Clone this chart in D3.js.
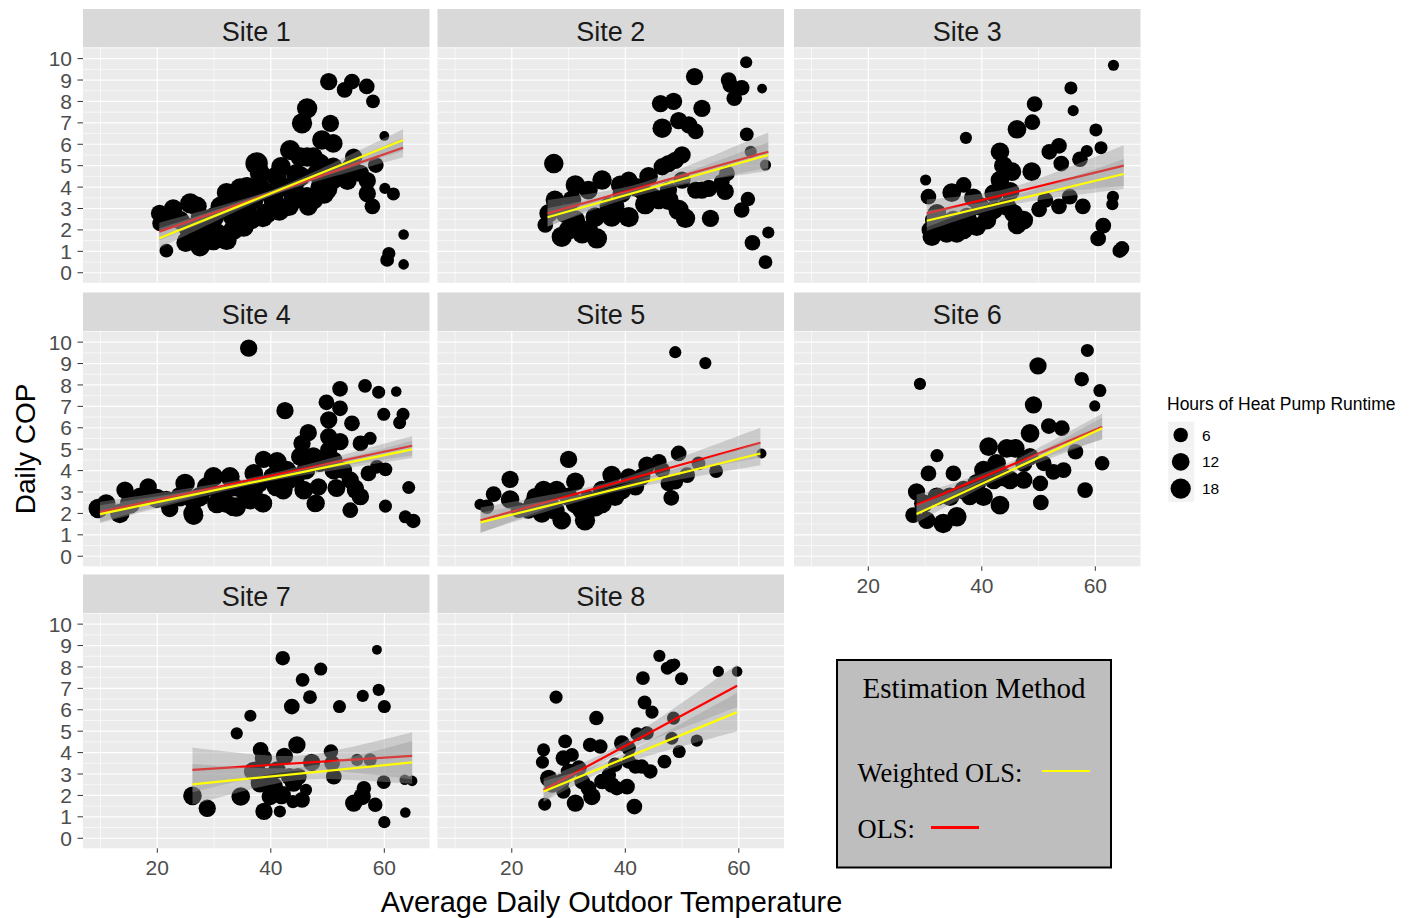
<!DOCTYPE html>
<html>
<head>
<meta charset="utf-8">
<script src="https://cdn.jsdelivr.net/npm/d3@7"></script>
<style>
  body { margin: 0; background: #fff; }
  svg { display: block; }
  .tick-label { font-family: "Liberation Sans", Arial, sans-serif; font-size: 21px; fill: #4d4d4d; }
  .strip-label { font-family: "Liberation Sans", Arial, sans-serif; font-size: 27px; fill: #1a1a1a; }
  .axis-title { font-family: "Liberation Sans", Arial, sans-serif; font-size: 28px; fill: #000; }
  .axis-title.x-title { font-size: 28.9px; }
  .legend-text { font-family: "Liberation Sans", Arial, sans-serif; fill: #000; }
  .box-text { font-family: "Liberation Serif", "Times New Roman", serif; fill: #000; }
</style>
</head>
<body>
<svg id="chart" width="1412" height="918"></svg>
<script>
// ---- data ----
const siteNames = ['Site 1', 'Site 2', 'Site 3', 'Site 4', 'Site 5', 'Site 6', 'Site 7', 'Site 8'];

// [avg outdoor temp, daily COP, hours of runtime]
const site1 = [
  [20.4,2.77,11],[21.6,1.03,5],[20.5,2.3,8],[22.8,3.0,14],[25.8,3.24,18],[27,3.1,16],[25.2,1.5,14],[27.6,1.25,16],
  [32.2,3.74,16],[34.6,3.94,18],[33.4,2.0,18],[37.5,5.1,24],[38.1,4.64,18],[41,4.5,18],[43.4,5.73,18],[45.5,6.98,18],
  [46.4,7.68,18],[46.4,5.4,16],[47.5,3.4,16],[46.6,3.1,14],[49,6.2,16],[49.4,3.7,18],[50.2,8.93,11],[50.5,6.98,11],
  [51,6.04,14],[53,8.54,8],[54.3,8.93,8],[56.9,8.7,8],[58,8.0,5],[54.6,5.4,11],[57,4.3,11],[57,3.7,11],[57.9,3.1,8],
  [58.5,5.03,8],[60,6.39,1],[60.1,3.94,2],[61.6,3.68,4],[60.8,0.9,4],[60.5,0.6,5],[63.4,1.79,1.5],[63.4,0.39,1.5],
  [28.7,2.15,18],[30.5,1.84,18],[33.4,2.6,18],[35.8,3.1,18],[37,3.4,16],[39.3,2.77,18],[40.5,3.4,18],[42.2,4.0,16],
  [44,4.0,18],[45.2,4.5,18],[48.1,4.64,16],[48.7,4.0,16],[51,4.33,14],[52.2,4.64,14],[54,4.95,11],[54.6,4.8,11],
  [55.8,4.64,11],[53.5,4.3,14],[44,3.4,18],[46.4,3.55,16],[43.2,3.1,16],[38.6,2.6,18],[35.2,2.15,18],[32.2,1.53,18],
  [29.9,1.5,16],[27.6,1.84,16],[25.2,2.15,14],[24,2.46,14],[22.8,2.6,11],[21.6,2.46,11],[27.6,2.6,16],[31.1,3.1,16],
  [33.4,3.4,16],[35.8,4.0,18],[38.1,4.0,18],[40,3.7,18],[41.8,4.95,16],[45.2,5.4,16],[47.5,5.4,16],[48.7,5.1,16],[51,4.95,14],
  [25,1.4,14],[27.5,1.2,14],[30,2.6,18],[36.5,2.5,18],[41.5,2.9,18],[44.5,4.6,18],[50,3.9,16]
];
const site2 = [
  [27.4,5.1,16],[25.9,2.23,8],[28.8,1.68,18],[31.2,4.1,16],[30.6,3.4,14],[33.5,3.86,14],[32.4,1.84,18],[35,1.6,18],
  [35.9,4.33,16],[39.1,4.1,14],[40.6,2.6,18],[38.2,3.1,14],[43.5,3.2,18],[44.1,4.5,14],[45.9,3.4,14],[46.5,6.75,16],
  [46.2,7.9,11],[48.5,8.0,11],[49.4,7.1,11],[51.2,6.9,11],[52.4,6.6,8],[52.2,9.16,11],[53.5,7.68,11],[48.8,5.25,11],
  [50,5.5,11],[47.6,3.4,18],[49.4,2.93,18],[50.6,2.54,16],[55,2.54,11],[52.4,3.86,11],[54.7,3.94,11],[57.6,3.8,11],
  [57.9,4.64,8],[58.2,9.0,8],[58.5,8.77,8],[60.5,8.64,8],[59.2,8.15,8],[61.3,9.83,3],[64.1,8.6,1],[61.4,6.46,5],
  [62.1,5.65,3],[64.7,5.03,2],[61.6,3.44,6],[60.5,2.93,8],[62.4,1.4,8],[65.2,1.88,3],[64.7,0.5,5],
  [29.4,2.77,16],[31.2,2.46,16],[34.7,2.6,16],[37.1,3.1,14],[39.4,3.7,14],[41.8,4.0,14],[40.6,4.33,11],[42.9,3.86,14],
  [44.7,3.55,14],[47.6,3.86,11],[50,4.33,11],[53.5,3.86,11],[57,4.25,8],[46.5,4.95,11],[47.6,5.1,11],[27.6,3.4,14],
  [26.5,2.77,14],[30,2.0,16],[33.5,2.0,16],[37.6,2.6,16]
];
const site3 = [
  [30.1,4.33,2],[30.6,3.55,8],[31.2,1.68,14],[33.8,1.84,14],[34.7,3.74,14],[36.8,4.1,8],[37.2,6.3,3],[38.5,3.5,14],
  [36.8,2.0,14],[39.1,2.15,14],[43.2,5.65,14],[43.8,5.0,14],[45.3,4.72,14],[43.2,4.33,14],[46.2,6.7,14],[48.9,7.03,8],
  [49.3,7.88,8],[48.8,4.72,14],[46.2,2.23,14],[47.4,2.46,14],[50.1,2.96,8],[51.9,5.65,8],[53.6,5.93,8],[54,5.1,8],
  [55.7,8.63,4],[56.1,7.57,2],[57.3,5.3,8],[58.5,5.68,3],[60.1,6.67,4],[61,5.84,4],[63.2,9.69,2],[53.6,3.1,8],
  [55.5,3.55,8],[57.8,3.1,8],[63.1,3.55,3],[63,3.2,3],[61.4,2.2,8],[60.5,1.6,8],[64.7,1.14,6],[64.3,1.03,6],[51.2,3.4,8],
  [32.1,2.77,14],[32.6,2.15,14],[35,2.46,14],[35.6,1.84,14],[37.4,2.6,14],[40.9,2.46,14],[42.1,2.93,14],[39.7,3.1,14],
  [44.4,3.1,14],[45.6,2.77,14],[42.1,3.7,14],[45,3.8,14],[31.5,2.46,11],[30.9,2.0,11]
];
const site4 = [
  [9.6,2.23,16],[13.4,2.0,16],[14.3,3.09,11],[15.2,2.46,18],[18.4,3.24,11],[19.9,2.7,16],[22.2,2.23,11],[24.9,3.4,16],
  [26.4,1.92,16],[27.5,2.78,16],[29.9,3.71,16],[30.5,2.46,16],[32.8,3.71,16],[33.4,2.31,14],[36.1,9.72,11],[37,3.87,14],
  [36.4,2.62,14],[38.7,4.52,11],[38.7,2.46,11],[41.1,4.41,16],[42.5,6.8,11],[42.8,4.02,14],[42.2,3.09,14],[45.5,5.27,11],
  [46.6,5.77,11],[45.2,4.65,14],[47.5,4.65,14],[45.8,3.09,14],[48.4,3.24,11],[47.8,2.46,11],[49.8,7.19,8],[50.2,6.37,11],
  [50.2,5.58,11],[50.2,4.96,11],[51.1,4.02,14],[52.2,7.82,8],[52.2,6.91,8],[52.2,5.35,11],[51.6,3.17,11],[54,2.15,8],
  [54.3,6.21,8],[54,3.56,11],[54.9,3.09,11],[55.8,2.78,11],[55.8,5.27,8],[56.6,7.96,5],[57.5,5.51,4],[57.2,3.87,8],
  [59,7.66,4],[59.9,6.63,4],[60.2,4.06,5],[58.7,4.18,5],[60.2,2.34,4],[62.1,7.69,1.5],[63.3,6.63,4],[62.7,6.24,4],
  [64.3,3.21,4],[63.7,1.84,4],[65.1,1.65,6],
  [11,2.46,14],[17,2.78,14],[21.6,2.62,14],[24,2.78,16],[26.4,2.62,16],[28.7,3.24,16],[31.1,2.78,16],[33.4,3.24,16],
  [35.2,3.09,16],[37.9,3.4,14],[40.3,3.71,14],[40.9,3.24,14],[43.2,3.56,14],[44.4,3.71,14],[46.2,4.02,14],[48.6,4.34,11],
  [51.1,4.49,11],[52.8,4.02,11],[37,3.09,14],[32.2,2.46,14],
  [26.3,2.0,16],[33.9,2.3,16],[38.6,2.48,14],[48,2.48,11],[51.5,3.2,11],[55,3.2,8],[55.7,2.76,8]
];
const site5 = [
  [14.4,2.42,2],[15.6,2.31,6],[16.8,2.9,8],[19.7,3.59,11],[19.7,2.65,14],[21.2,2.15,8],[23.5,2.46,8],[25.6,3.09,14],
  [27.9,3.09,14],[30,4.52,11],[31.2,3.48,14],[28.8,1.68,14],[32.9,1.68,18],[34.7,2.31,16],[37.6,3.79,14],[35.9,3.09,14],
  [39.4,3.09,14],[41.8,3.24,11],[43.8,4.26,11],[45.9,4.41,8],[48.8,9.53,3],[54.1,9.02,3],[49.4,4.8,8],[48.1,2.73,8],
  [48.8,3.48,8],[50.9,3.79,8],[52.9,4.34,5],[56,3.98,5],[64,4.8,1],
  [22.9,2.15,11],[25.3,2.0,14],[26.5,2.62,14],[27.6,2.15,16],[31.2,2.46,16],[32.4,2.15,16],[33.5,2.62,16],[35.9,2.46,16],
  [37.1,3.09,14],[38.2,2.78,14],[40.6,3.71,11],[42.9,3.71,11],[46.5,4.02,8],[47.6,3.4,8],[30,2.78,14],[24.1,2.78,11]
];
const site6 = [
  [29.1,8.05,3],[28.5,3.01,11],[27.9,1.92,8],[30.3,1.68,11],[30.6,3.87,8],[32.1,4.7,4],[33.2,1.53,16],[35,3.87,8],
  [35.6,1.84,16],[34.4,2.78,14],[37.9,2.78,11],[40.3,2.78,14],[43.2,2.39,14],[41.2,5.12,14],[44.4,5.04,14],[45.9,5.04,14],
  [45,3.56,14],[47.4,3.56,11],[48.5,5.74,14],[49.1,7.07,11],[49.9,8.89,11],[50.3,3.4,8],[50.4,2.51,8],[51.8,6.08,8],
  [54.1,5.98,8],[54.4,4.02,8],[52.6,3.94,8],[56.5,4.88,8],[58.2,3.09,8],[57.6,8.27,6],[58.6,9.61,4],[60.8,7.74,4],
  [59.9,7.02,2],[61.2,4.34,6],
  [29.7,2.46,14],[32.1,2.78,14],[36.8,3.09,14],[39.1,3.4,14],[40.3,4.02,14],[42.1,3.56,14],[43.8,3.71,14],[42.6,4.34,14],
  [47.4,4.34,11],[48.5,4.65,11],[50.9,4.34,8]
];
const site7 = [
  [26.2,1.98,14],[28.8,1.4,11],[34.7,1.95,14],[34,4.9,3],[36.4,5.72,3],[38.8,1.25,11],[38.2,4.13,8],[38.7,3.74,11],
  [36.9,3.12,14],[38.1,2.57,14],[40.5,2.41,14],[41.9,2.02,14],[41.6,1.25,3],[42.1,8.41,6],[42.4,3.82,11],[43.7,6.15,8],
  [44.6,4.36,11],[44.8,2.88,11],[43.9,1.71,4],[45.5,1.79,8],[46.2,2.26,3],[45.6,7.4,5],[46.9,6.59,5],[47.2,3.54,11],
  [48.8,7.9,4],[50.6,4.05,6],[51.1,2.88,8],[50.8,3.5,8],[52.1,6.15,4],[54.6,1.64,11],[56.1,1.95,11],[56.4,2.34,6],
  [55.2,3.66,3],[57.5,3.66,4],[56.2,6.65,3],[58.4,1.56,6],[58.7,8.8,1],[59,6.93,3],[60,6.15,4],[59.9,2.62,5],
  [60,0.75,3],[63.6,2.73,1.5],[64.9,2.68,1.5],[63.7,1.2,1.5],
  [39.3,2.88,11],[41.1,3.19,11],[43.3,2.88,11],[39.9,1.95,11],[44,2.57,11],[37.5,3.19,11]
];
const site8 = [
  [25.6,4.13,4],[25.4,3.55,4],[25.8,1.59,4],[26.5,2.8,11],[27.8,6.59,4],[29.4,4.52,5],[29.1,3.74,8],[30.6,3.89,5],
  [29.1,2.18,6],[31.2,1.64,11],[33.8,4.36,6],[35.6,4.28,6],[34.9,5.61,6],[34.1,1.95,11],[35.9,2.65,8],[37.6,2.49,8],
  [39.4,4.44,8],[38.5,2.34,6],[40.3,2.41,8],[41.6,1.48,8],[42.1,4.86,5],[43.8,4.91,5],[41.8,3.35,6],[42.9,3.35,6],
  [44.4,3.12,6],[43.1,7.48,5],[43.4,6.34,5],[44.7,5.89,4],[46,8.52,3],[47.4,7.94,4],[48.2,8.07,4],[48.7,8.13,2],
  [49.9,7.45,4],[48.5,5.61,4],[48.2,4.67,4],[46.9,3.58,5],[49.5,4.05,4],[52.6,4.56,3],[56.4,7.79,2],[59.7,7.79,1.5],
  [27.1,2.49,8],[28.8,2.65,8],[30,3.12,8],[31.8,3.27,8],[32.4,2.65,8],[33.5,2.34,8],[37.1,2.96,6],[40.6,3.58,6],
  [40.6,4.2,6],[38.2,3.43,6]
];
const sitePoints = [site1, site2, site3, site4, site5, site6, site7, site8];

// fitted lines: temp range, COP at both ends, band [centre temp, min half-width, half-width at right end]
const fitRange = [[20.35,63.3],[26.3,65.2],[30.3,65],[9.9,64.9],[14.5,63.8],[28.5,61.2],[26.2,64.9],[25.6,59.7]];
const olsEnds = [[1.92,5.84],[2.77,5.65],[2.77,5.0],[2.07,5.16],[1.68,5.3],[2.39,6.05],[3.19,3.85],[2.26,7.12]];
const wlsEnds = [[1.61,6.2],[2.59,5.5],[2.43,4.61],[1.97,4.99],[1.58,4.8],[1.97,5.98],[2.52,3.54],[2.18,5.89]];
const olsBand = [[41,0.12,0.45],[42,0.2,0.9],[44,0.25,0.95],[38,0.1,0.45],[37,0.12,0.7],[43,0.15,0.6],[45,0.35,1.1],[37,0.2,1.0]];
const wlsBand = [[41,0.12,0.5],[42,0.18,0.6],[44,0.2,0.7],[38,0.1,0.4],[37,0.12,0.55],[43,0.15,0.5],[45,0.3,1.0],[37,0.2,0.9]];

const yTickValues = [0,1,2,3,4,5,6,7,8,9,10];
const xTickValues = [20, 40, 60];
const sizeLegendValues = [6, 12, 18];

// ---- layout ----
const colX = [83, 437.5, 794];
const rowTop = [47.5, 331, 613];
const panelW = 346.5;
const panelH = 235.3;
const stripH = 38.5;

const svg = d3.select('#chart');
svg.append('rect').attr('width', 1412).attr('height', 918).attr('fill', '#fff');

const x = d3.scaleLinear().domain([6.91, 67.96]).range([0, panelW]);
const y = d3.scaleLinear().domain([-0.47, 10.52]).range([panelH, 0]);
const r = d3.scaleSqrt().domain([0, 24]).range([3.3, 11.2]);

function bandHalf(spec, x1) {
    const [xc, w0, w1] = spec;
    const k = Math.sqrt(Math.max(w1 * w1 - w0 * w0, 0)) / Math.abs(x1 - xc);
    return t => Math.sqrt(w0 * w0 + k * k * (t - xc) * (t - xc));
}

function drawFit(g, i, ends, band, colour) {
    const [x0, x1] = fitRange[i];
    const lineY = t => ends[0] + (ends[1] - ends[0]) * (t - x0) / (x1 - x0);
    const half = bandHalf(band, x1);
    const ts = d3.range(0, 41).map(j => x0 + (x1 - x0) * j / 40);

    g.append('path')
        .datum(ts)
        .attr('d', d3.area().x(t => x(t)).y0(t => y(lineY(t) - half(t))).y1(t => y(lineY(t) + half(t))))
        .attr('fill', '#999999')
        .attr('fill-opacity', 0.4);

    g.append('path')
        .datum([x0, x1])
        .attr('d', d3.line().x(t => x(t)).y(t => y(lineY(t))))
        .attr('stroke', colour)
        .attr('stroke-width', 2.2)
        .attr('fill', 'none');
}

siteNames.forEach((name, i) => {
    const row = Math.floor(i / 3);
    const col = i % 3;
    const g = svg.append('g').attr('transform', `translate(${colX[col]},${rowTop[row]})`);

    // strip
    g.append('rect').attr('x', 0).attr('y', -stripH).attr('width', panelW).attr('height', stripH).attr('fill', '#d9d9d9');
    g.append('text').attr('class', 'strip-label')
        .attr('x', panelW / 2).attr('y', -stripH + 31.5)
        .attr('text-anchor', 'middle').text(name);

    // panel background + grid
    g.append('rect').attr('width', panelW).attr('height', panelH).attr('fill', '#ebebeb');
    const yMinor = d3.range(-0.5, 10.51, 0.5).filter(v => v % 1 !== 0 && y(v) >= 0 && y(v) <= panelH);
    g.selectAll('.ymin').data(yMinor).enter().append('line')
        .attr('x1', 0).attr('x2', panelW).attr('y1', d => y(d)).attr('y2', d => y(d))
        .attr('stroke', '#fff').attr('stroke-width', 0.6);
    g.selectAll('.xmin').data([10, 30, 50]).enter().append('line')
        .attr('y1', 0).attr('y2', panelH).attr('x1', d => x(d)).attr('x2', d => x(d))
        .attr('stroke', '#fff').attr('stroke-width', 0.6);
    g.selectAll('.ymaj').data(yTickValues).enter().append('line')
        .attr('x1', 0).attr('x2', panelW).attr('y1', d => y(d)).attr('y2', d => y(d))
        .attr('stroke', '#fff').attr('stroke-width', 1.2);
    g.selectAll('.xmaj').data(xTickValues).enter().append('line')
        .attr('y1', 0).attr('y2', panelH).attr('x1', d => x(d)).attr('x2', d => x(d))
        .attr('stroke', '#fff').attr('stroke-width', 1.2);

    // clipped data layer
    const clipId = 'clip' + i;
    g.append('clipPath').attr('id', clipId).append('rect').attr('width', panelW).attr('height', panelH);
    const data = g.append('g').attr('clip-path', `url(#${clipId})`);

    data.selectAll('circle').data(sitePoints[i]).enter().append('circle')
        .attr('cx', d => x(d[0])).attr('cy', d => y(d[1])).attr('r', d => r(d[2]))
        .attr('fill', '#000');

    drawFit(data, i, olsEnds[i], olsBand[i], '#ff0000');
    drawFit(data, i, wlsEnds[i], wlsBand[i], '#ffff00');

    // y axis on first column
    if (col === 0) {
        const yAxis = g.append('g');
        yAxis.selectAll('line').data(yTickValues).enter().append('line')
            .attr('x1', -5.5).attr('x2', 0).attr('y1', d => y(d)).attr('y2', d => y(d))
            .attr('stroke', '#333').attr('stroke-width', 1);
        yAxis.selectAll('text').data(yTickValues).enter().append('text')
            .attr('class', 'tick-label')
            .attr('x', -11).attr('y', d => y(d)).attr('dy', '0.36em')
            .attr('text-anchor', 'end').text(d => d);
    }

    // x axis on the lowest panel of each column
    if (row === 2 || (row === 1 && col === 2)) {
        const xAxis = g.append('g').attr('transform', `translate(0,${panelH})`);
        xAxis.selectAll('line').data(xTickValues).enter().append('line')
            .attr('x1', d => x(d)).attr('x2', d => x(d)).attr('y1', 0).attr('y2', 4.5)
            .attr('stroke', '#333').attr('stroke-width', 1);
        xAxis.selectAll('text').data(xTickValues).enter().append('text')
            .attr('class', 'tick-label')
            .attr('x', d => x(d)).attr('y', 26.5)
            .attr('text-anchor', 'middle').text(d => d);
    }
});

// axis titles
svg.append('text').attr('class', 'axis-title')
    .attr('transform', 'translate(35,449) rotate(-90)')
    .attr('text-anchor', 'middle').text('Daily COP');
svg.append('text').attr('class', 'axis-title x-title')
    .attr('x', 611.5).attr('y', 912)
    .attr('text-anchor', 'middle').text('Average Daily Outdoor Temperature');

// size legend
const legend = svg.append('g').attr('transform', 'translate(1167,0)');
legend.append('text').attr('class', 'legend-text').attr('font-size', 17.5)
    .attr('x', 0).attr('y', 410).text('Hours of Heat Pump Runtime');
const keyTop = [421.7, 448.5, 475.3];
sizeLegendValues.forEach((v, j) => {
    legend.append('rect').attr('x', 1.3).attr('y', keyTop[j]).attr('width', 26).attr('height', 26.6).attr('fill', '#f2f2f2');
    legend.append('circle').attr('cx', 13.7).attr('cy', keyTop[j] + 13.3).attr('r', r(v)).attr('fill', '#000');
    legend.append('text').attr('class', 'legend-text').attr('font-size', 15.5)
        .attr('x', 35).attr('y', keyTop[j] + 13.3).attr('dy', '0.36em').text(v);
});

// estimation method box
const box = svg.append('g');
box.append('rect').attr('x', 837).attr('y', 660).attr('width', 274).attr('height', 207.5)
    .attr('fill', '#bebebe').attr('stroke', '#000').attr('stroke-width', 2);
box.append('text').attr('class', 'box-text').attr('font-size', 29)
    .attr('x', 974).attr('y', 698).attr('text-anchor', 'middle').text('Estimation Method');
box.append('text').attr('class', 'box-text').attr('font-size', 26.5)
    .attr('x', 857.5).attr('y', 782).text('Weighted OLS:');
box.append('line').attr('x1', 1042).attr('x2', 1090).attr('y1', 771).attr('y2', 771)
    .attr('stroke', '#ffff00').attr('stroke-width', 2.2);
box.append('text').attr('class', 'box-text').attr('font-size', 26.5)
    .attr('x', 857.5).attr('y', 838).text('OLS:');
box.append('line').attr('x1', 931).attr('x2', 979).attr('y1', 827.5).attr('y2', 827.5)
    .attr('stroke', '#ff0000').attr('stroke-width', 3);
</script>
</body>
</html>
